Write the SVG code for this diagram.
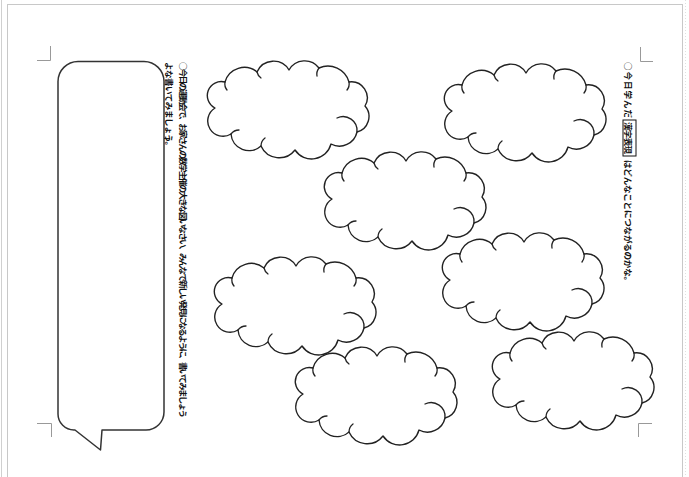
<svg xmlns="http://www.w3.org/2000/svg" width="689" height="477" viewBox="0 0 689 477">
<style>
.page{fill:#fff;stroke:#c8c8c8;stroke-width:1}
.crop{fill:none;stroke:#999;stroke-width:1}
.cloud{fill:#fff;stroke:#222;stroke-width:1.4;stroke-linejoin:round}
.curl{fill:none;stroke:#222;stroke-width:1.3;stroke-linecap:round}
.bubble{fill:#fff;stroke:#333;stroke-width:1.5;stroke-linejoin:round}
.vt{font-family:"Noto Sans CJK JP","Noto Sans",sans-serif;font-size:8.5px;fill:#111}
.vb{font-weight:bold}
</style>
<defs>
<g id="cloudShape">
<path class="cloud" d="M-72,-2 A14,14 0 0 1 -62,-28 A20,20 0 0 1 -30,-38 A18,18 0 0 1 2,-40 A18,18 0 0 1 32,-42 A22,22 0 0 1 62,-28 A16,16 0 0 1 78,-4 A16,16 0 0 1 70,22 A18,18 0 0 1 44,34 A20,20 0 0 1 8,40 A20,20 0 0 1 -26,36 A18,18 0 0 1 -56,24 A13,13 0 0 1 -72,-2 Z"/>
<path class="curl" d="M-62,-28 A10,10 0 0 0 -60,-20"/>
<path class="curl" d="M-30,-38 A10,10 0 0 0 -26,-32"/>
<path class="curl" d="M32,-42 A10,10 0 0 0 30,-34"/>
<path class="curl" d="M62,-28 A10,10 0 0 1 60,-20"/>
<path class="curl" d="M70,22 A14,14 0 0 0 50,8"/>
<path class="curl" d="M-56,24 A10,10 0 0 1 -48,20"/>
<path class="curl" d="M-26,36 A10,10 0 0 1 -22,28"/>
</g>
</defs>
<rect x="0" y="0" width="689" height="477" fill="#fff"/>
<line x1="1.5" y1="0" x2="1.5" y2="477" stroke="#d0d0d0"/>
<rect class="page" x="7.5" y="4.5" width="675" height="480"/>
<line x1="685.5" y1="0" x2="685.5" y2="477" stroke="#e0e0e0" stroke-dasharray="1,2"/>
<g id="cropmarks">
<path class="crop" d="M37,60.5 H50.5 V46"/>
<path class="crop" d="M640.5,47 V61.5 H653"/>
<path class="crop" d="M37,423.5 H51.5 V437"/>
<path class="crop" d="M638.5,437 V423.5 H652"/>
</g>
<g id="bubble">
<path class="bubble" d="M78,61.5 H144 A20,20 0 0 1 164,81.5 V412 A18,18 0 0 1 146,430 H102 L100.5,450 L75,430 H74 A16,16 0 0 1 58,414 V81.5 A20,20 0 0 1 78,61.5 Z"/>
<path d="M164,138.5 H170" stroke="#222" stroke-width="1"/>
</g>
<g id="text-left">
<text class="vt vb" transform="translate(180,62) rotate(90)" textLength="356" lengthAdjust="spacing">○今日の運動会で、お家さんの数学主催の大きな図いなさい、みんなで新しい発見になるように、書いてみましょう</text>
<text class="vt vb" transform="translate(165.5,62) rotate(90)" textLength="88" lengthAdjust="spacing">よな書いてみましょう。</text>
</g>
<g id="text-right">
<text class="vt vb" transform="translate(625,62) rotate(90)" textLength="56" lengthAdjust="spacing">○今日学んだ</text>
<rect x="623" y="120" width="13" height="36" fill="none" stroke="#111" stroke-width="1"/>
<text class="vt vb" transform="translate(625,122) rotate(90)" textLength="32" lengthAdjust="spacing">漢字表現</text>
<text class="vt vb" transform="translate(625,160) rotate(90)" textLength="125" lengthAdjust="spacing">はどんなことにつながるのかな。</text>
</g>
<g id="cloud1"><use href="#cloudShape" transform="translate(287,110)"/></g>
<g id="cloud2"><use href="#cloudShape" transform="translate(524,113)"/></g>
<g id="cloud3"><use href="#cloudShape" transform="translate(404,201)"/></g>
<g id="cloud4"><use href="#cloudShape" transform="translate(522,282)"/></g>
<g id="cloud5"><use href="#cloudShape" transform="translate(294,306)"/></g>
<g id="cloud6"><use href="#cloudShape" transform="translate(572,381)"/></g>
<g id="cloud7"><use href="#cloudShape" transform="translate(375,396)"/></g>
<g id="connectors"/>
</svg>
